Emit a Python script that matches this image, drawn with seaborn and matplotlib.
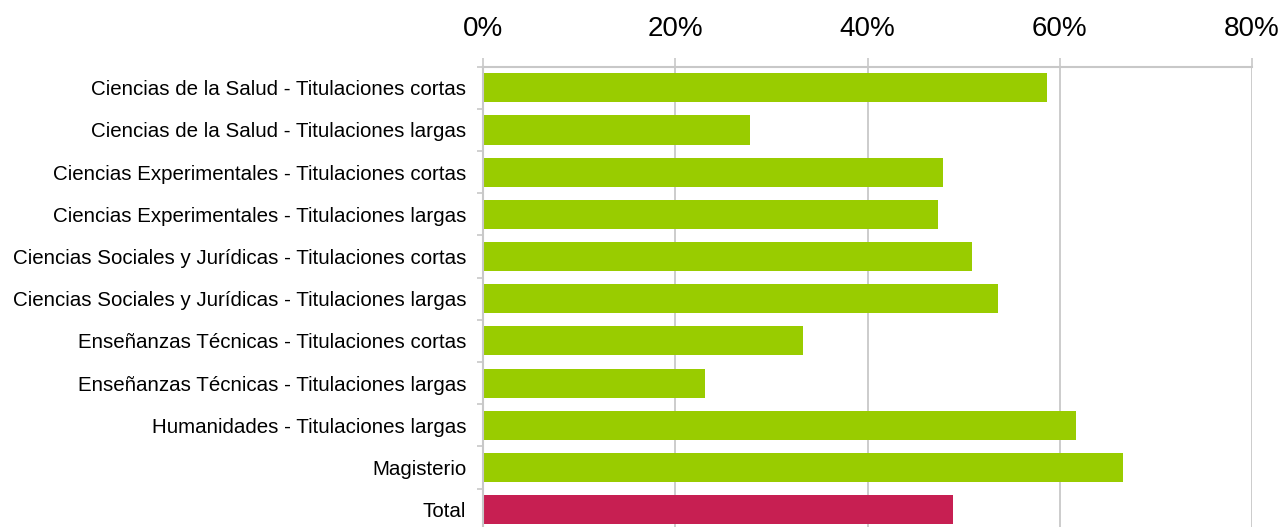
import matplotlib
matplotlib.use("Agg")
import matplotlib.pyplot as plt
import seaborn as sns
import pandas as pd
import numpy as np
from matplotlib.ticker import FixedLocator, PercentFormatter

categories = [
    "Ciencias de la Salud - Titulaciones cortas",
    "Ciencias de la Salud - Titulaciones largas",
    "Ciencias Experimentales - Titulaciones cortas",
    "Ciencias Experimentales - Titulaciones largas",
    "Ciencias Sociales y Jurídicas - Titulaciones cortas",
    "Ciencias Sociales y Jurídicas - Titulaciones largas",
    "Enseñanzas Técnicas - Titulaciones cortas",
    "Enseñanzas Técnicas - Titulaciones largas",
    "Humanidades - Titulaciones largas",
    "Magisterio",
    "Total",
]
values = [58.7, 27.8, 47.9, 47.3, 50.9, 53.6, 33.3, 23.1, 61.7, 66.6, 48.9]
groups = ["area"] * 10 + ["total"]
xticks = [0, 20, 40, 60, 80]

sns.set_theme(style="white")
plt.rcParams["font.family"] = ["Liberation Sans", "DejaVu Sans"]

df = pd.DataFrame({"cat": categories, "val": values, "grp": groups})

fig = plt.figure(figsize=(12.82, 5.27), dpi=100)
ax = fig.add_axes([483 / 1282, -3.7 / 527, (1252 - 483) / 1282, (530.7 - 66.7) / 527])

sns.barplot(data=df, x="val", y="cat", hue="grp", orient="h",
            palette={"area": "#99CC00", "total": "#C71F52"},
            width=0.69, dodge=False, legend=False, ax=ax, saturation=1,
            linewidth=0)

ax.set_xlim(0, 80)
ax.set_ylim(10.5, -0.5)
ax.xaxis.tick_top()
ax.xaxis.set_major_locator(FixedLocator(xticks))
ax.xaxis.set_major_formatter(PercentFormatter(decimals=0))
ax.grid(axis="x", color="#C8C8C8", linewidth=1.3)
ax.set_axisbelow(True)
ax.tick_params(axis="x", which="major", top=True, bottom=False, length=6.5,
               width=1.2, color="#C8C8C8", pad=11, labelsize=20, labelcolor="black")
ax.tick_params(axis="y", which="major", length=0, pad=12, labelsize=14.8, labelcolor="black")
ax.yaxis.set_minor_locator(FixedLocator(np.arange(-0.5, 11, 1.0)))
ax.tick_params(axis="y", which="minor", left=True, length=4.5, width=1.2, color="#C8C8C8")
ax.set_xlabel("")
ax.set_ylabel("")
for s in ["bottom", "right"]:
    ax.spines[s].set_visible(False)
for s in ["top", "left"]:
    ax.spines[s].set_color("#C8C8C8")
    ax.spines[s].set_linewidth(1.5)

fig.savefig("out.png", dpi=100)
